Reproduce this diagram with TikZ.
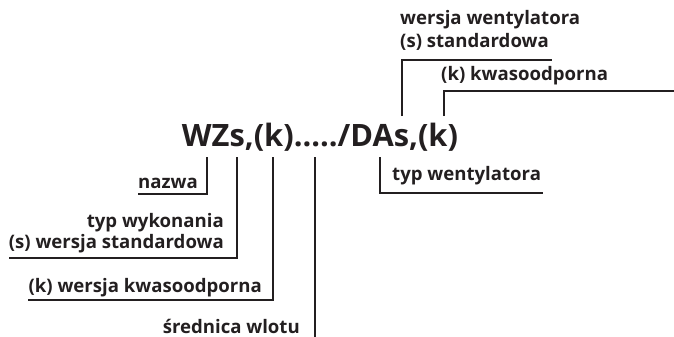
\documentclass[tikz,border=0pt]{standalone}
\usepackage{fontspec}
\setmainfont{Open Sans}
\definecolor{ink}{RGB}{35,31,32}
\begin{document}
\begin{tikzpicture}[x=1pt,y=-1pt,
  lbl/.style={font=\bfseries\fontsize{18.6}{18.6}\selectfont, text=ink, inner sep=0pt},
  lbll/.style={lbl, anchor=base west},
  lblr/.style={lbl, anchor=base east},
  ldr/.style={draw=ink, line width=1.3pt}]
\useasboundingbox (0,0) rectangle (674,337);
\node[anchor=base, font=\bfseries\fontsize{30.8}{30.8}\selectfont, text=ink, inner sep=0pt] (main) at (320,146) {WZs,(k)...../DAs,(k)};
% labels
\node[lblr] (nazwa) at (198,188) {nazwa};
\node[lblr] (typw) at (224,227) {typ wykonania};
\node[lblr] (wstd) at (224,248) {(s) wersja standardowa};
\node[lblr] (wkw) at (262,292) {(k) wersja kwasoodporna};
\node[lblr] (sred) at (300,333) {średnica wlotu};
\node[lbll] (wwent) at (400,25) {wersja wentylatora};
\node[lbll] (sstd) at (400,48) {(s) standardowa};
\node[lbll] (kkw) at (441,80) {(k) kwasoodporna};
\node[lbll] (typwent) at (392,180) {typ wentylatora};
% coordinates
\coordinate (a1) at (207,157); \coordinate (a2) at (207,194); \coordinate (a3) at (138,194);
\coordinate (b1) at (237,157); \coordinate (b2) at (237,258); \coordinate (b3) at (9,258);
\coordinate (c1) at (273,157); \coordinate (c2) at (273,300); \coordinate (c3) at (28,300);
\coordinate (d1) at (315,157); \coordinate (d2) at (315,337);
\coordinate (e1) at (402,116); \coordinate (e2) at (402,60); \coordinate (e3) at (552,60);
\coordinate (f1) at (444,116); \coordinate (f2) at (444,91); \coordinate (f3) at (674,91);
\coordinate (g1) at (380,157); \coordinate (g2) at (380,193); \coordinate (g3) at (543,193);
\draw[ldr] (a1) -- (a2) -- (a3);
\draw[ldr] (b1) -- (b2) -- (b3);
\draw[ldr] (c1) -- (c2) -- (c3);
\draw[ldr] (d1) -- (d2);
\draw[ldr] (e1) -- (e2) -- (e3);
\draw[ldr] (f1) -- (f2) -- (f3);
\draw[ldr] (g1) -- (g2) -- (g3);
\end{tikzpicture}
\end{document}
